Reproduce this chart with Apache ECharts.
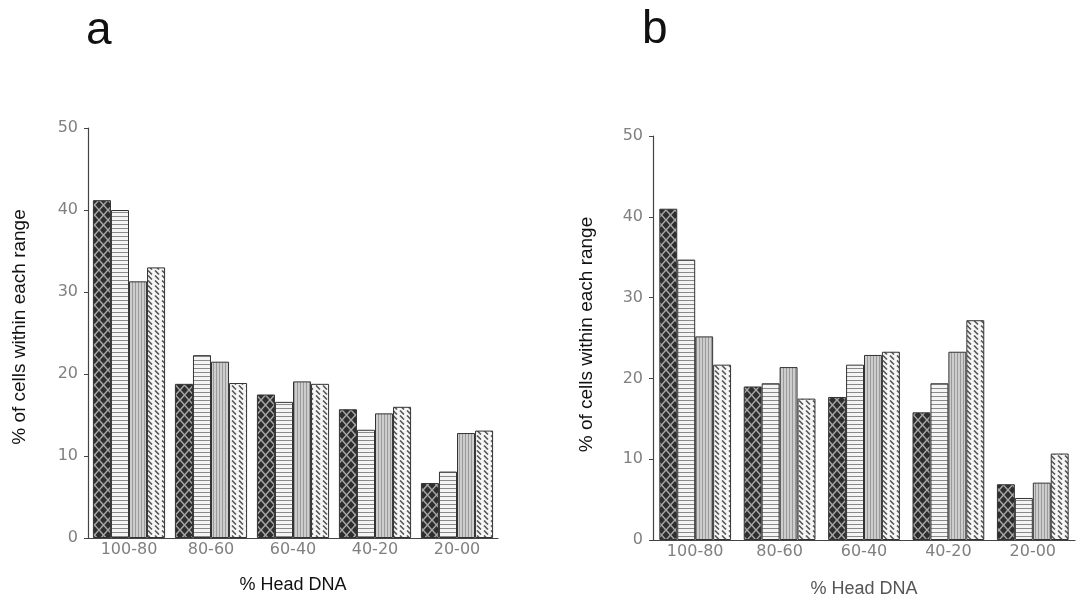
<!DOCTYPE html>
<html>
<head>
<meta charset="utf-8">
<script src="https://cdn.jsdelivr.net/npm/echarts@6/dist/echarts.min.js"></script>
<style>
  html, body { margin: 0; padding: 0; background: #fff; }
  #main { width: 1089px; height: 603px; }
</style>
</head>
<body>
<div id="main"></div>
<script>
  // % Head DNA ranges
  var categories = ['100-80', '80-60', '60-40', '40-20', '20-00'];
  var yTicks = [0, 10, 20, 30, 40, 50];

  // panel a
  var aS1 = [41.2, 18.8, 17.5, 15.7, 6.7];
  var aS2 = [40.0, 22.3, 16.6, 13.2, 8.1];
  var aS3 = [31.3, 21.5, 19.1, 15.2, 12.8];
  var aS4 = [33.0, 18.9, 18.8, 16.0, 13.1];

  // panel b
  var bS1 = [41.0, 19.0, 17.7, 15.8, 6.9];
  var bS2 = [34.7, 19.4, 21.7, 19.4, 5.2];
  var bS3 = [25.2, 21.4, 22.9, 23.3, 7.1];
  var bS4 = [21.7, 17.5, 23.3, 27.2, 10.7];

  function makePattern(w, h, draw) {
    var c = document.createElement('canvas');
    c.width = w; c.height = h;
    draw(c.getContext('2d'), w, h);
    return { image: c, repeat: 'repeat' };
  }

  // dark crosshatch
  var pCross = makePattern(9, 10, function (g, w, h) {
    g.fillStyle = '#2e2e2e'; g.fillRect(0, 0, w, h);
    g.strokeStyle = '#a8a8a8'; g.lineWidth = 1.5;
    g.beginPath();
    g.moveTo(0, 0); g.lineTo(w, h);
    g.moveTo(w, 0); g.lineTo(0, h);
    g.stroke();
  });
  // horizontal stripes
  var pHoriz = makePattern(4, 4, function (g, w, h) {
    g.fillStyle = '#f4f4f4'; g.fillRect(0, 0, w, h);
    g.fillStyle = '#8a8a8a'; g.fillRect(0, 0, w, 1);
  });
  // vertical stripes on grey
  var pVert = makePattern(3, 4, function (g, w, h) {
    g.fillStyle = '#cdcdcd'; g.fillRect(0, 0, w, h);
    g.fillStyle = '#9a9a9a'; g.fillRect(0, 0, 1, h);
  });
  // wavy diagonal dashes
  var pWave = makePattern(7, 5, function (g, w, h) {
    g.fillStyle = '#f6f6f6'; g.fillRect(0, 0, w, h);
    g.strokeStyle = '#555'; g.lineWidth = 1.6;
    g.beginPath();
    g.moveTo(1, 0.5); g.lineTo(5, 4.5);
    g.stroke();
  });

  var patterns = [pCross, pHoriz, pVert, pWave];
  var font = 'Liberation Sans, Arial, sans-serif';
  var tickFont = 'DejaVu Sans, sans-serif';

  function yAxis(gi, nameGap, shift) {
    return {
      type: 'value', gridIndex: gi, min: 0, max: 50, interval: 10,
      name: '% of cells within each range', nameLocation: 'middle', nameGap: nameGap,
      nameTextStyle: { color: '#111', fontSize: 19, fontFamily: font, padding: [0, 0, 0, shift] },
      axisLine: { show: true, lineStyle: { color: '#444', width: 1.2 } },
      axisTick: { show: true, length: 4, lineStyle: { color: '#444' } },
      axisLabel: { color: '#808080', fontSize: 16, fontFamily: tickFont, margin: 10 },
      splitLine: { show: false }
    };
  }
  function xAxis(gi, nameColor, nameGap) {
    return {
      type: 'category', gridIndex: gi, data: categories,
      name: '% Head DNA', nameLocation: 'middle', nameGap: nameGap,
      nameTextStyle: { color: nameColor, fontSize: 18, fontFamily: font },
      axisLine: { lineStyle: { color: '#444', width: 1.2 } },
      axisTick: { show: false },
      axisLabel: { color: '#808080', fontSize: 16, fontFamily: tickFont, margin: 4 }
    };
  }
  function bars(gi, arrs, catGap) {
    return arrs.map(function (d, i) {
      return {
        type: 'bar', xAxisIndex: gi, yAxisIndex: gi, data: d,
        barGap: '0%', barCategoryGap: catGap, silent: true,
        itemStyle: { color: patterns[i], borderColor: '#333', borderWidth: 1 }
      };
    });
  }

  var chart = echarts.init(document.getElementById('main'), null, { renderer: 'canvas' });
  chart.setOption({
    backgroundColor: '#fff',
    animation: false,
    title: [
      { text: 'a', left: 81, top: 3, textStyle: { fontSize: 46, fontWeight: 'normal', color: '#111', fontFamily: font } },
      { text: 'b', left: 637, top: 2, textStyle: { fontSize: 46, fontWeight: 'normal', color: '#111', fontFamily: font } }
    ],
    grid: [
      { left: 88, top: 128, width: 410, height: 410 },
      { left: 653, top: 136, width: 422, height: 411 }
    ],
    xAxis: [xAxis(0, '#111', 38), xAxis(1, '#555', 40)],
    yAxis: [yAxis(0, 59, 12), yAxis(1, 57, 7)],
    series: bars(0, [aS1, aS2, aS3, aS4], '12%').concat(bars(1, [bS1, bS2, bS3, bS4], '15%'))
  });
</script>
</body>
</html>
